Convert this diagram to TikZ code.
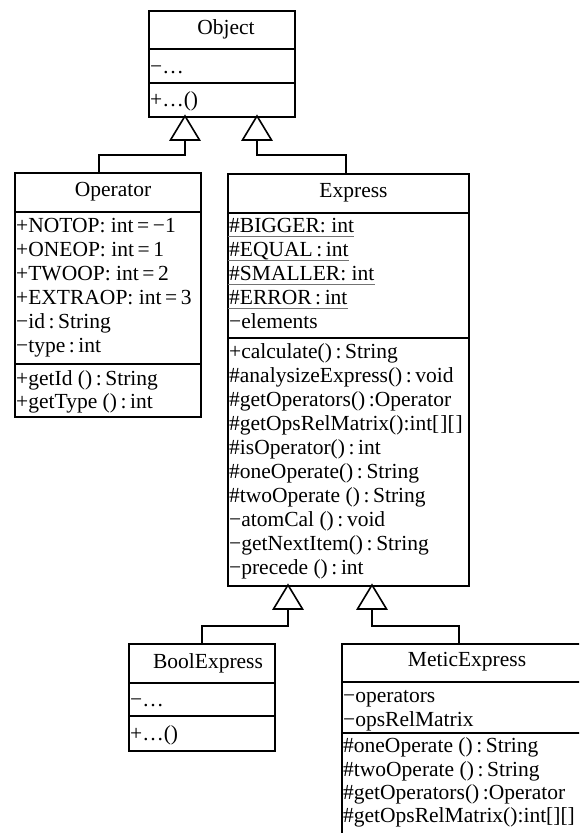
\documentclass[tikz,border=0pt]{standalone}
\usepackage{fontspec}
\setmainfont{Liberation Serif}
\newcommand\umlf{\fontsize{21.5}{24}\selectfont}
\begin{document}
\begin{tikzpicture}[x=1pt,y=-1pt,
  box/.style={draw, line width=1.8pt, inner sep=0pt, anchor=north west, fill=white},
  ttl/.style={font=\umlf, inner sep=0pt},
  txt/.style={font=\umlf, anchor=base west, inner xsep=0pt, inner ysep=0pt},
  sepl/.style={line width=1.5pt},
  conn/.style={line width=1.8pt},
  tri/.style={line width=1.6pt, fill=white, line join=miter},
  ul/.style={line width=1.3pt, draw=black!55}]
\useasboundingbox (0,0) rectangle (579,833);
\clip (0,0) rectangle (579,833);
\fill[white] (0,0) rectangle (579,833);

% ---------- Object ----------
\node[box, minimum width=146pt, minimum height=106pt] (obj) at (148,10) {};
\node[ttl] (objT) at (226,29) {Object};
\draw[sepl] (obj.west |- 0,49) -- (obj.east |- 0,49);
\draw[sepl] (obj.west |- 0,83) -- (obj.east |- 0,83);
\node[txt] (objA) at (150,73) {−\ldots};
\node[txt] (objM) at (150,106) {+\ldots()};

% ---------- Operator ----------
\node[box, minimum width=186pt, minimum height=244pt] (op) at (14,172) {};
\node[ttl] (opT) at (113,192) {Operator};
\draw[sepl] (op.west |- 0,212) -- (op.east |- 0,212);
\draw[sepl] (op.west |- 0,364) -- (op.east |- 0,364);
\node[txt] (opA1) at (16,232) {+NOTOP: int\,=\,−1};
\node[txt] (opA2) at (16,256) {+ONEOP: int\,=\,1};
\node[txt] (opA3) at (16,280) {+TWOOP: int\,=\,2};
\node[txt] (opA4) at (16,304) {+EXTRAOP: int\,=\,3};
\node[txt] (opA5) at (16,328) {−id\,:\,String};
\node[txt] (opA6) at (16,352) {−type\,:\,int};
\node[txt] (opM1) at (16,385) {+getId ()\,:\,String};
\node[txt] (opM2) at (16,408) {+getType ()\,:\,int};

% ---------- Express ----------
\node[box, minimum width=241pt, minimum height=412pt] (ex) at (227,173) {};
\node[ttl] (exT) at (353.5,193) {Express};
\draw[sepl] (ex.west |- 0,213) -- (ex.east |- 0,213);
\draw[sepl] (ex.west |- 0,338) -- (ex.east |- 0,338);
\node[txt] (exA1) at (229,232) {\#BIGGER: int};
\node[txt] (exA2) at (229,256) {\#EQUAL\,:\,int};
\node[txt] (exA3) at (229,280) {\#SMALLER: int};
\node[txt] (exA4) at (229,304) {\#ERROR\,:\,int};
\node[txt] (exA5) at (229,328) {−elements};
\foreach \n in {exA1,exA2,exA3,exA4}
  \draw[ul] ([xshift=-1.5pt,yshift=-4.5pt]\n.base west) -- ([yshift=-4.5pt]\n.base east);
\node[txt] (exM1) at (229,358) {+calculate()\,:\,String};
\node[txt] (exM2) at (229,382) {\#analysizeExpress()\,:\,void};
\node[txt] (exM3) at (229,406) {\#getOperators()\,:Operator};
\node[txt] (exM4) at (229,430) {\#getOpsRelMatrix():int[\kern1pt][\kern1pt]};
\node[txt] (exM5) at (229,454) {\#isOperator()\,:\,int};
\node[txt] (exM6) at (229,478) {\#oneOperate()\,:\,String};
\node[txt] (exM7) at (229,502) {\#twoOperate ()\,:\,String};
\node[txt] (exM8) at (229,526) {−atomCal ()\,:\,void};
\node[txt] (exM9) at (229,550) {−getNextItem()\,:\,String};
\node[txt] (exM10) at (229,574) {−precede ()\,:\,int};

% ---------- BoolExpress ----------
\node[box, minimum width=146pt, minimum height=107pt] (bo) at (128,643) {};
\node[ttl] (boT) at (208,663) {BoolExpress};
\draw[sepl] (bo.west |- 0,683) -- (bo.east |- 0,683);
\draw[sepl] (bo.west |- 0,716) -- (bo.east |- 0,716);
\node[txt] (boA) at (130,706) {−\ldots};
\node[txt] (boM) at (130,740) {+\ldots()};

% ---------- MeticExpress ----------
\node[box, minimum width=252pt, minimum height=200pt] (me) at (341,643) {};
\node[ttl] (meT) at (467,662) {MeticExpress};
\draw[sepl] (me.west |- 0,682) -- (me.east |- 0,682);
\draw[sepl] (me.west |- 0,733) -- (me.east |- 0,733);
\node[txt] (meA1) at (343,702) {−operators};
\node[txt] (meA2) at (343,726) {−opsRelMatrix};
\node[txt] (meM1) at (343,752) {\#oneOperate ()\,:\,String};
\node[txt] (meM2) at (343,776) {\#twoOperate ()\,:\,String};
\node[txt] (meM3) at (343,799) {\#getOperators()\,:Operator};
\node[txt] (meM4) at (343,822) {\#getOpsRelMatrix():int[][]};

% ---------- generalisations ----------
\coordinate (t1) at (185,116);
\coordinate (t2) at (257,116);
\coordinate (t3) at (288,585);
\coordinate (t4) at (372,585);
\foreach \t in {t1,t2,t3,t4}
  \draw[tri] (\t) -- ++(-14.5,24) -- ++(29,0) -- cycle;
\draw[conn] ([yshift=-24pt]t1) -- ++(0,15) -| ([xshift=-9pt]op.north);
\draw[conn] ([yshift=-24pt]t2) -- ++(0,15) -| ([xshift=-2.5pt]ex.north);
\draw[conn] ([yshift=-25pt]t3) -- ++(0,16) -| (bo.north);
\draw[conn] ([yshift=-25pt]t4) -- ++(0,16) -| ([xshift=-9pt]me.north);
\end{tikzpicture}
\end{document}
